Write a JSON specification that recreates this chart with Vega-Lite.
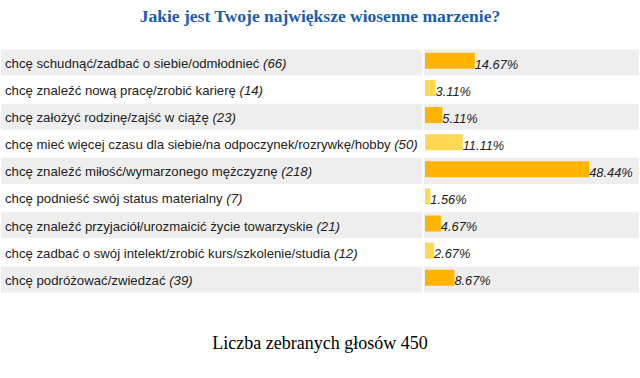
{
  "$schema": "https://vega.github.io/schema/vega-lite/v6.json",
  "padding": {"left": 1, "right": 1, "top": 8, "bottom": 0},
  "background": "white",
  "datasets": {
    "poll": [
      {"rank": 1, "option": "chcę schudnąć/zadbać o siebie/odmłodnieć", "votes": 66, "share": 0.1467},
      {"rank": 2, "option": "chcę znaleźć nową pracę/zrobić karierę", "votes": 14, "share": 0.0311},
      {"rank": 3, "option": "chcę założyć rodzinę/zajść w ciążę", "votes": 23, "share": 0.0511},
      {"rank": 4, "option": "chcę mieć więcej czasu dla siebie/na odpoczynek/rozrywkę/hobby", "votes": 50, "share": 0.1111},
      {"rank": 5, "option": "chcę znaleźć miłość/wymarzonego mężczyznę", "votes": 218, "share": 0.4844},
      {"rank": 6, "option": "chcę podnieść swój status materialny", "votes": 7, "share": 0.0156},
      {"rank": 7, "option": "chcę znaleźć przyjaciół/urozmaicić życie towarzyskie", "votes": 21, "share": 0.0467},
      {"rank": 8, "option": "chcę zadbać o swój intelekt/zrobić kurs/szkolenie/studia", "votes": 12, "share": 0.0267},
      {"rank": 9, "option": "chcę podróżować/zwiedzać", "votes": 39, "share": 0.0867}
    ],
    "footer": [
      {"caption": "Liczba zebranych głosów 450"}
    ]
  },
  "title": {
    "text": "Jakie jest Twoje największe wiosenne marzenie?",
    "anchor": "middle",
    "font": "Liberation Serif",
    "fontSize": 17.5,
    "fontWeight": "bold",
    "color": "#1a5ea9",
    "offset": 23.5
  },
  "spacing": 20.5,
  "vconcat": [
    {
      "spacing": 2,
      "hconcat": [
        {
          "width": 421,
          "height": 244,
          "data": {"name": "poll"},
          "transform": [{"calculate": "datum.option + ' (' + datum.votes + ')'", "as": "full"}],
          "encoding": {
            "y": {"field": "rank", "type": "ordinal", "axis": null, "scale": {"paddingInner": 0.04, "paddingOuter": 0.02}}
          },
          "layer": [
            {
              "mark": {"type": "rect"},
              "encoding": {
                "fill": {"condition": {"test": "datum.rank % 2 == 1", "value": "#eeeeee"}, "value": "#ffffff"}
              }
            },
            {
              "mark": {"type": "text", "align": "left", "baseline": "alphabetic", "dx": 4, "dy": 5.3, "font": "Liberation Sans", "fontSize": 13.2, "fontStyle": "italic", "fill": "#222222"},
              "encoding": {"x": {"value": 0}, "text": {"field": "full"}}
            },
            {
              "mark": {"type": "text", "align": "left", "baseline": "alphabetic", "dx": 4, "dy": 5.3, "font": "Liberation Sans", "fontSize": 13.2, "fontStyle": "normal", "strokeWidth": 4},
              "encoding": {
                "x": {"value": 0},
                "text": {"field": "option"},
                "fill": {"condition": {"test": "datum.rank % 2 == 1", "value": "#eeeeee"}, "value": "#ffffff"},
                "stroke": {"condition": {"test": "datum.rank % 2 == 1", "value": "#eeeeee"}, "value": "#ffffff"}
              }
            },
            {
              "mark": {"type": "text", "align": "left", "baseline": "alphabetic", "dx": 4, "dy": 5.3, "font": "Liberation Sans", "fontSize": 13.2, "fontStyle": "normal", "fill": "#222222"},
              "encoding": {"x": {"value": 0}, "text": {"field": "option"}}
            }
          ]
        },
        {
          "width": 215,
          "height": 244,
          "data": {"name": "poll"},
          "encoding": {
            "y": {"field": "rank", "type": "ordinal", "axis": null, "scale": {"paddingInner": 0.04, "paddingOuter": 0.02}}
          },
          "layer": [
            {
              "mark": {"type": "rect"},
              "encoding": {
                "fill": {"condition": {"test": "datum.rank % 2 == 1", "value": "#eeeeee"}, "value": "#ffffff"}
              }
            },
            {
              "mark": {"type": "bar", "height": 16, "yOffset": -1.7},
              "encoding": {
                "x": {"field": "share", "type": "quantitative", "axis": null, "scale": {"domain": [-0.003, 0.6312], "nice": false, "zero": false}},
                "fill": {"condition": {"test": "datum.rank % 2 == 1", "value": "#ffb400"}, "value": "#ffd752"}
              }
            },
            {
              "mark": {"type": "text", "align": "left", "baseline": "alphabetic", "dx": 0, "dy": 6, "font": "Liberation Sans", "fontSize": 12.8, "fontStyle": "italic", "fill": "#222222"},
              "encoding": {
                "x": {"field": "share", "type": "quantitative"},
                "text": {"field": "share", "type": "quantitative", "format": ".2%"}
              }
            }
          ]
        }
      ]
    },
    {
      "width": 638,
      "height": 60,
      "data": {"name": "footer"},
      "mark": {"type": "text", "align": "center", "baseline": "middle", "font": "Liberation Serif", "fontSize": 18, "fill": "#000000"},
      "encoding": {"text": {"field": "caption"}}
    }
  ],
  "config": {"view": {"stroke": null}}
}
